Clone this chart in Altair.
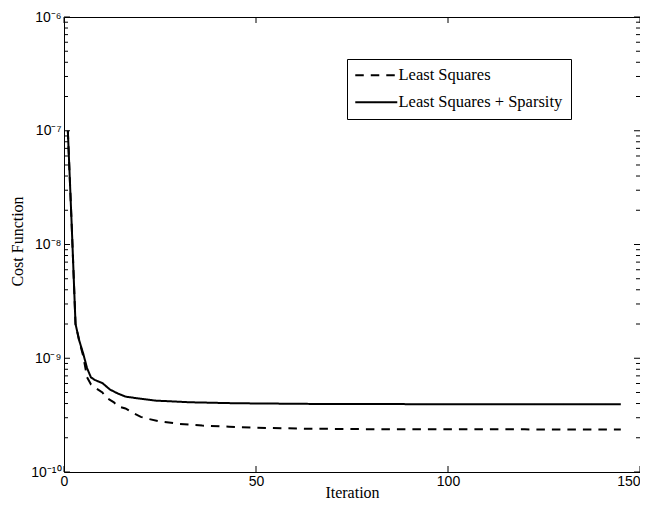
import altair as alt
import pandas as pd

# ---- data ----
ls_iter = [1, 2, 3, 4, 5, 6, 7, 8, 10, 11, 13, 14, 16, 18, 20, 22, 25, 30, 36, 43, 50, 64, 80, 100, 120, 145]
ls_cost = [1.0e-7, 1.5e-8, 2.0e-9, 1.4e-9, 1.05e-9, 6.8e-10, 5.9e-10, 5.55e-10, 5.0e-10, 4.5e-10,
           4.1e-10, 3.78e-10, 3.62e-10, 3.3e-10, 3.05e-10, 2.93e-10, 2.78e-10, 2.65e-10, 2.56e-10,
           2.5e-10, 2.45e-10, 2.4e-10, 2.38e-10, 2.37e-10, 2.37e-10, 2.36e-10]

sp_iter = [1, 2, 3, 4, 5, 6, 7, 8, 10, 12, 14, 16, 19, 24, 33, 45, 64, 90, 120, 145]
sp_cost = [1.0e-7, 1.5e-8, 2.0e-9, 1.42e-9, 1.1e-9, 8.2e-10, 6.8e-10, 6.45e-10, 6.05e-10, 5.3e-10,
           4.9e-10, 4.6e-10, 4.45e-10, 4.24e-10, 4.1e-10, 4.02e-10, 3.97e-10, 3.95e-10, 3.94e-10, 3.94e-10]

series_names = ["Least Squares", "Least Squares + Sparsity"]

x_ticks = [0, 50, 100, 150]
y_major = [1e-10, 1e-9, 1e-8, 1e-7, 1e-6]
y_minor = [m * 10.0 ** e for e in [-10, -9, -8, -7] for m in [2, 3, 4, 5, 6, 7, 8, 9]]

W, H = 576, 455

df = pd.concat([
    pd.DataFrame({"iter": ls_iter, "cost": ls_cost, "series": series_names[0]}),
    pd.DataFrame({"iter": sp_iter, "cost": sp_cost, "series": series_names[1]}),
])

xs = alt.Scale(domain=[0, 150], nice=False, zero=False)
ys = alt.Scale(type="log", domain=[1e-10, 1e-6], nice=False)

label_expr = (
    "datum.value < 1.5e-10 ? '10⁻¹⁰' : datum.value < 1.5e-9 ? '10⁻⁹' : "
    "datum.value < 1.5e-8 ? '10⁻⁸' : datum.value < 1.5e-7 ? '10⁻⁷' : '10⁻⁶'"
)

lines = alt.Chart(df).mark_line(strokeWidth=2, color="black").encode(
    x=alt.X("iter:Q", scale=xs, axis=alt.Axis(
        values=x_ticks, title="Iteration", ticks=False, domain=False, grid=False,
        labelPadding=2, labelFont="Liberation Sans", labelFontSize=14, labelColor="black",
        labelFlush=False,
        labelAlign={"condition": {"test": "datum.value >= 150", "value": "right"}, "value": "center"},
        titleFont="Liberation Serif", titleFontSize=16, titleFontWeight="normal", titleColor="black",
        titleBaseline="alphabetic", titleY=25)),
    y=alt.Y("cost:Q", scale=ys, axis=alt.Axis(
        values=y_major, labelExpr=label_expr, title="Cost Function", ticks=False, domain=False,
        grid=False, labelPadding=3, labelFont="Liberation Sans", labelFontSize=14, labelColor="black",
        labelFlush=False,
        titleFont="Liberation Serif", titleFontSize=16, titleFontWeight="normal", titleColor="black",
        titleBaseline="middle", titleX=-47, titleY=224)),
    strokeDash=alt.StrokeDash("series:N", scale=alt.Scale(domain=series_names, range=[[8.5, 7], [1, 0]]),
        legend=alt.Legend(title=None, orient="none", legendX=283, legendY=42,
            symbolType="M-1.14,0H4.86", symbolSize=196, symbolStrokeWidth=2, symbolStrokeColor="black",
            labelFont="Liberation Serif", labelFontSize=16.5, labelColor="black", labelOffset=27,
            padding=8, rowPadding=10, strokeColor="black", fillColor="white", labelLimit=400)),
)


def yticks(vals, x0, x1):
    return alt.Chart(pd.DataFrame({"v": vals})).mark_rule(color="black", strokeWidth=1).encode(
        y=alt.Y("v:Q", scale=ys), x=alt.value(x0), x2=alt.value(x1))


def xticks(vals, y0, y1):
    return alt.Chart(pd.DataFrame({"v": vals})).mark_rule(color="black", strokeWidth=1).encode(
        x=alt.X("v:Q", scale=xs), y=alt.value(y0), y2=alt.value(y1))


chart = alt.layer(
    lines,
    yticks(y_major, 0, 6), yticks(y_minor, 0, 4),
    yticks(y_major, W, W - 6), yticks(y_minor, W, W - 4),
    xticks(x_ticks, H, H - 6), xticks(x_ticks, 0, 6),
).properties(
    width=W, height=H,
    autosize=alt.AutoSizeParams(type="none"),
    padding={"left": 56, "top": 9, "right": 0, "bottom": 28},
    background="white",
).configure_view(stroke="black", strokeWidth=1)

chart.save("out.html", embed_options={"renderer": "svg", "actions": False})
